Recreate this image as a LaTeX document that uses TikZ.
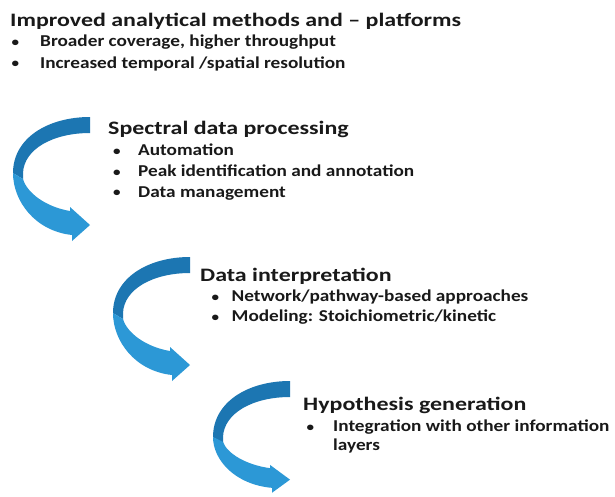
\documentclass[tikz,border=0pt]{standalone}
\usepackage{fontspec}
\setmainfont{Carlito}
\newfontfamily\hfont[FakeStretch=1.26]{Carlito}
\newfontfamily\ifont[FakeStretch=1.16]{Carlito}
\definecolor{adark}{RGB}{28,118,178}
\definecolor{alight}{RGB}{44,152,214}
\definecolor{txt}{RGB}{25,25,25}
\newcommand\bitem[2]{\makebox[#1][l]{\hspace*{1pt}\raisebox{0.6pt}{\fontsize{13}{13}\selectfont\textbullet}}#2}
\begin{document}
\begin{tikzpicture}[x=1pt,y=-1pt,
 maintitle/.style={anchor=base west,inner sep=0pt,font=\hfont\bfseries\fontsize{19}{23}\selectfont,text=txt},
 head/.style={anchor=base west,inner sep=0pt,font=\hfont\bfseries\fontsize{19}{23}\selectfont,text=txt},
 item/.style={anchor=base west,inner sep=0pt,font=\ifont\bfseries\fontsize{16.6}{18.3}\selectfont,text=txt},
 pics/carrow/.style={code={
   \fill[adark] (77,-56) .. controls (35,-56) and (0,-35) .. (0,0) -- (10,6) -- (10,0) .. controls (11,-24) and (40,-40) .. (77,-40) -- cycle;
   \begin{scope}[yscale=#1]
   \fill[alight] (0,0) .. controls (0,28) and (22,58) .. (59,62) -- (59,68) -- (77,52) -- (57,34) -- (57,38) .. controls (33,34) and (14,20) .. (10,6) -- cycle;
   \end{scope}
 }}]
\useasboundingbox (0,0) rectangle (615,496);
\fill[white] (0,0) rectangle (615,496);

\node[maintitle] (t0) at (10,26.7) {Improved analytical methods and – platforms};
\node[item] (t0a) at (10.5,46.7) {\bitem{29.5pt}{Broader coverage, higher throughput}};
\node[item] (t0b) at (10.5,68) {\bitem{29.5pt}{Increased temporal /spatial resolution}};

\pic (a1) at (13,173) {carrow=1};
\node[head] (h1) at (108,134) {Spectral data processing};
\node[item] (h1a) at (112,155.7) {\bitem{26pt}{Automation}};
\node[item] (h1b) at (112,176.7) {\bitem{26pt}{Peak identification and annotation}};
\node[item] (h1c) at (112,197) {\bitem{26pt}{Data management}};

\pic (a2) at (113,313) {carrow=1};
\node[head] (h2) at (200,281) {Data interpretation};
\node[item] (h2a) at (210.5,301.7) {\bitem{21pt}{Network/pathway-based approaches}};
\node[item] (h2b) at (210.5,321.7) {\bitem{21pt}{Modeling: Stoichiometric/kinetic}};

\pic (a3) at (213,437) {carrow=0.82};
\node[head] (h3) at (303,410) {Hypothesis generation};
\node[item] (h3a) at (305.5,431.7) {\parbox[t]{310pt}{\bitem{27.5pt}{Integration with other information}\\\hspace*{27.5pt}layers}};
\end{tikzpicture}
\end{document}
